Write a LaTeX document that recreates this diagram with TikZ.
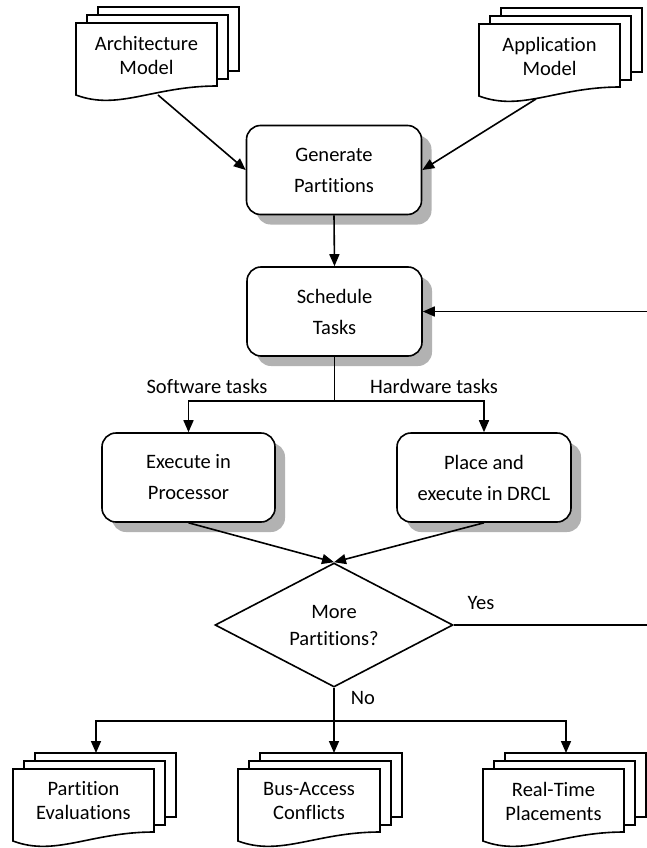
\documentclass[tikz,border=0pt]{standalone}
\usepackage{fontspec}
\setmainfont{Carlito}[Ligatures=NoCommon]
\usetikzlibrary{shapes.geometric,shadows,arrows.meta}
\tikzset{
  ln/.style={line width=1.6pt, line join=miter},
  arr/.style={ln, -{Triangle[length=12pt,width=10pt]}},
  procbox/.style={ln, draw, fill=white, rounded corners=14pt, align=center,
    minimum width=175pt, minimum height=89pt, inner sep=0pt,
    font=\fontsize{20.5}{31}\selectfont,
    drop shadow={shadow xshift=10pt, shadow yshift=-10pt, fill=black!30, opacity=1}},
  decision/.style={ln, draw, fill=white, diamond, aspect=1.92, inner sep=0pt,
    minimum width=238pt, minimum height=124pt, align=center,
    font=\fontsize{20.5}{27}\selectfont},
  doctext/.style={align=center, inner sep=0pt, font=\fontsize{20.5}{24}\selectfont},
  lbl/.style={inner sep=0pt, anchor=base, font=\fontsize{20.5}{24}\selectfont},
  sheet/.style={ln, draw, fill=white}
}
% #1 name, #2 x0, #3 y0, #4 width, #5 text
\newcommand{\docstack}[5]{%
  \draw[sheet] ({#2+22},{#3-16}) rectangle ({#2+22+#4},{#3+48});
  \draw[sheet] ({#2+11},{#3-8}) rectangle ({#2+11+#4},{#3+56});
  \draw[sheet] (#2,#3) -- ({#2+#4},#3) -- ({#2+#4},{#3+63})
     .. controls ({#2+0.55*#4},{#3+63}) and ({#2+0.3*#4},{#3+88}) .. (#2,{#3+72}) -- cycle;
  \node[doctext] (#1) at ({#2+#4/2},{#3+32}) {#5};
}
\begin{document}
\begin{tikzpicture}[x=1pt,y=-1pt]
\useasboundingbox (0,0) rectangle (647,848);

% input documents
\docstack{arch}{76}{23}{141}{Architecture\\Model}
\docstack{app}{479}{24}{141}{Application\\Model}
\coordinate (archout) at (158,95);
\coordinate (appout) at (536,99);

% process boxes
\node[procbox] (gen) at (334,170) {Generate\\Partitions};
\node[procbox] (sched) at (334.5,311.5) {Schedule\\Tasks};
\node[procbox, minimum width=173pt] (exec) at (188.5,477.5) {Execute in\\Processor};
\node[procbox, minimum width=174pt] (place) at (484,477.5) {Place and\\execute in DRCL};

% decision
\node[decision] (dia) at (334,625) {More\\Partitions?};

% output documents
\docstack{pe}{13}{769}{141}{Partition\\Evaluations}
\docstack{bus}{238}{769}{142}{Bus-Access\\Conflicts}
\docstack{rt}{483}{769}{141}{Real-Time\\Placements}
\coordinate (petop) at (96,753);
\coordinate (bustop) at (334,753);
\coordinate (rttop) at (566,753);

% connectors
\draw[arr] (archout) -- (gen.west);
\draw[arr] (appout) -- (gen.east);
\draw[arr] (gen.south) -- (sched.north);

\coordinate (split) at (334.5,401);
\draw[ln] (sched.south) -- (split);
\draw[arr] (split) -| (exec.north);
\draw[arr] (split) -| (place.north);
\node[lbl] (swl) at (207,393) {Software tasks};
\node[lbl] (hwl) at (434,393) {Hardware tasks};

\draw[arr] (exec.south) -- (dia.north);
\draw[arr] (place.south) -- (dia.north);

\coordinate (fbA) at (651,625);
\coordinate (fbB) at (651,311.5);
\draw[arr] (dia.east) -- (fbA) -- (fbB) -- (sched.east);
\node[lbl] (yes) at (481,609) {Yes};

\coordinate (nosplit) at (334,721);
\draw[arr] (dia.south) -- (bustop);
\draw[arr] (nosplit) -| (petop);
\draw[arr] (nosplit) -| (rttop);
\node[lbl] (no) at (363,704) {No};
\end{tikzpicture}
\end{document}
